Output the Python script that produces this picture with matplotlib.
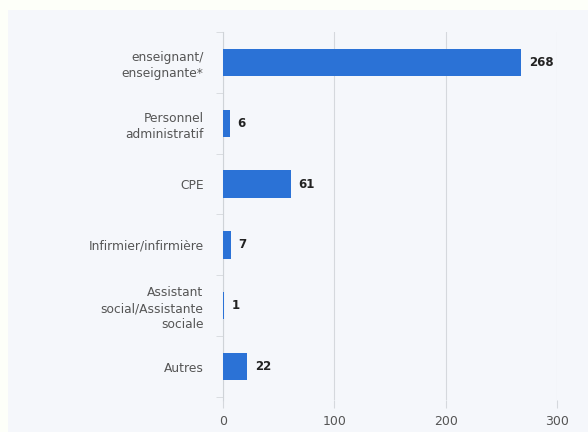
import matplotlib
matplotlib.use("Agg")
from matplotlib import pyplot as plt
from matplotlib.patches import Rectangle

categories = ["enseignant/\nenseignante*", "Personnel\nadministratif", "CPE",
              "Infirmier/infirmière", "Assistant\nsocial/Assistante\nsociale", "Autres"]
values = [268, 6, 61, 7, 1, 22]
xticks = [0, 100, 200, 300]

bar_color = "#2b72d6"
bg = "#f5f7fb"

fig = plt.figure(figsize=(5.88, 4.32), dpi=100)
fig.patch.set_facecolor("#fdfff9")
# inner panel, small light border at left and top
fig.add_artist(Rectangle((8 / 588, 0), 1, 1 - 10 / 432, transform=fig.transFigure,
                         facecolor=bg, edgecolor="none", zorder=0))

ax = fig.add_axes([223 / 588, 32 / 432, (557 - 223) / 588, 368 / 432])
ax.set_facecolor(bg)

y = list(range(len(categories)))
ax.barh(y, values, height=0.45, color=bar_color, zorder=3)
for yi, v in zip(y, values):
    ax.text(v + 7, yi, str(v), va="center", ha="left", fontsize=8.5,
            fontweight="bold", color="#222222", zorder=4)

ax.set_xlim(0, 300)
ax.set_ylim(len(categories) - 0.45, -0.45)
ax.set_xticks(xticks)
ax.set_xticklabels([str(t) for t in xticks], fontsize=9, color="#555555")
ax.set_yticks(y)
ax.set_yticklabels(categories, fontsize=8.8, color="#555555", linespacing=1.3)
ax.set_yticks([i + 0.5 for i in range(-1, len(categories))], minor=True)

ax.grid(axis="x", color="#d5d8dd", linewidth=0.8, zorder=0)
for s in ["top", "right", "bottom"]:
    ax.spines[s].set_visible(False)
ax.spines["left"].set_color("#cfd3d8")
ax.spines["left"].set_linewidth(0.8)

ax.tick_params(axis="x", length=6, color="#d5d8dd", pad=5)
ax.tick_params(axis="y", which="major", length=0, pad=14)
ax.tick_params(axis="y", which="minor", length=5, color="#d5d8dd")

fig.savefig("out.png", dpi=100, facecolor=fig.get_facecolor())
